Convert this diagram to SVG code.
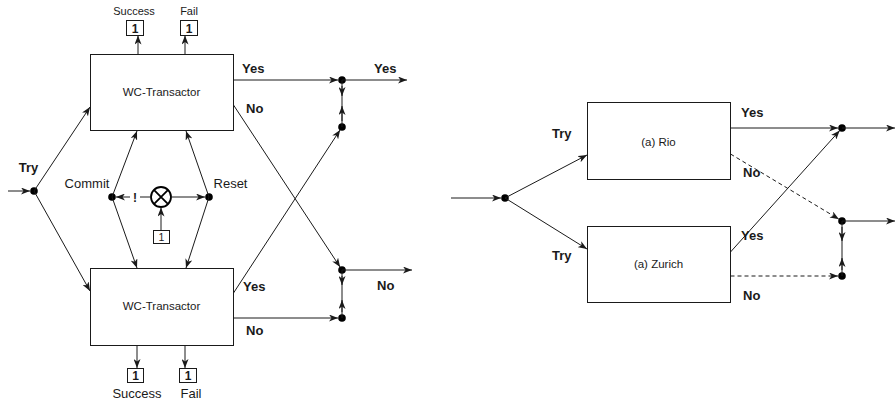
<svg xmlns="http://www.w3.org/2000/svg" width="895" height="403" viewBox="0 0 895 403">
  <defs>
    <style>
      .box { fill: #ffffff; stroke: #1a1a1a; stroke-width: 1; }
      .one { fill: #ffffff; stroke: #1a1a1a; stroke-width: 1; }
      .dot { fill: #000000; }
      .edge { fill: none; stroke: #1a1a1a; stroke-width: 1; }
      .dash { stroke-dasharray: 4 3; }
      .arr { marker-end: url(#arrow); }
      .lbl { font-family: "Liberation Sans", Arial, Helvetica, sans-serif; fill: #1a1a1a; }
      .name { font-size: 11.5px; text-anchor: middle; }
      .bold { font-size: 13px; font-weight: bold; }
      .plain { font-size: 13px; }
      .small { font-size: 11px; text-anchor: middle; }
      .num { font-size: 12px; font-weight: bold; text-anchor: middle; }
    </style>
    <marker id="arrow" viewBox="0 0 9 7" refX="9" refY="3.5" markerWidth="9" markerHeight="7" markerUnits="userSpaceOnUse" orient="auto">
      <path d="M0,0 L9,3.5 L0,7 L2.5,3.5 z" fill="#1a1a1a"/>
    </marker>
  </defs>

  <!-- left: two WC-Transactors -->
  <g id="wc-top">
    <rect class="box" x="90.5" y="54.5" width="143" height="76"/>
    <text class="lbl name" x="161.5" y="96">WC-Transactor</text>
  </g>
  <g id="wc-bottom">
    <rect class="box" x="90.5" y="268.5" width="143" height="77"/>
    <text class="lbl name" x="161.5" y="310">WC-Transactor</text>
  </g>

  <g id="top-success">
    <text class="lbl small" x="134" y="15">Success</text>
    <rect class="one" x="126.5" y="20.5" width="17" height="15"/>
    <text class="lbl num" x="135" y="32.5">1</text>
  </g>
  <g id="top-fail">
    <text class="lbl small" x="189" y="15">Fail</text>
    <rect class="one" x="180.5" y="20.5" width="17" height="15"/>
    <text class="lbl num" x="189" y="32.5">1</text>
  </g>
  <g id="bottom-success">
    <rect class="one" x="127.5" y="368.5" width="16" height="14"/>
    <text class="lbl num" x="135.5" y="380">1</text>
    <text class="lbl plain" x="137" y="398" text-anchor="middle">Success</text>
  </g>
  <g id="bottom-fail">
    <rect class="one" x="179.5" y="368.5" width="17" height="14"/>
    <text class="lbl num" x="188" y="380">1</text>
    <text class="lbl plain" x="191" y="398" text-anchor="middle">Fail</text>
  </g>

  <g id="try-left">
    <circle class="dot" cx="34" cy="191" r="3.8"/>
    <text class="lbl bold" x="28.5" y="172" text-anchor="middle">Try</text>
  </g>
  <g id="commit">
    <circle class="dot" cx="112" cy="197" r="3.8"/>
    <text class="lbl plain" x="87" y="188" text-anchor="middle">Commit</text>
  </g>
  <g id="reset">
    <circle class="dot" cx="209" cy="197" r="3.8"/>
    <text class="lbl plain" x="230.5" y="188" text-anchor="middle">Reset</text>
  </g>
  <g id="xor">
    <circle cx="161" cy="197" r="10" fill="#ffffff" stroke="#000000" stroke-width="1.8"/>
    <path d="M153.9,189.9 L168.1,204.1 M168.1,189.9 L153.9,204.1" stroke="#000000" stroke-width="1.8"/>
  </g>
  <g id="xor-one">
    <rect class="one" x="153.5" y="230.5" width="16" height="13"/>
    <text class="lbl" x="161.5" y="241" font-size="10.5" text-anchor="middle">1</text>
  </g>

  <g id="join-yes">
    <circle class="dot" cx="342" cy="80" r="3.8"/>
    <circle class="dot" cx="342" cy="127" r="3.8"/>
  </g>
  <g id="join-no">
    <circle class="dot" cx="342" cy="270" r="3.8"/>
    <circle class="dot" cx="342" cy="318" r="3.8"/>
  </g>

  <!-- right: Rio / Zurich -->
  <g id="rio">
    <rect class="box" x="587.5" y="102.5" width="143" height="77"/>
    <text class="lbl name" x="658.5" y="146">(a) Rio</text>
  </g>
  <g id="zurich">
    <rect class="box" x="587.5" y="226.5" width="143" height="76"/>
    <text class="lbl name" x="658.5" y="268">(a) Zurich</text>
  </g>
  <g id="split">
    <circle class="dot" cx="505" cy="198" r="3.8"/>
  </g>
  <g id="join-right">
    <circle class="dot" cx="842" cy="128" r="3.8"/>
    <circle class="dot" cx="842" cy="221" r="3.8"/>
    <circle class="dot" cx="842" cy="276" r="3.8"/>
  </g>

  <g id="connectors">
    <!-- left entry and try branches -->
    <path class="edge arr" d="M8,191 L30,191"/>
    <path class="edge arr" d="M34,191 L90,107"/>
    <path class="edge arr" d="M34,191 L90,291"/>
    <!-- success / fail outputs -->
    <path class="edge arr" d="M138,54 L138,35.5"/>
    <path class="edge arr" d="M185,54 L185,35.5"/>
    <path class="edge arr" d="M137,346 L137,368"/>
    <path class="edge arr" d="M185,346 L185,368"/>
    <!-- commit / reset -->
    <path class="edge arr" d="M112,197 L137,131"/>
    <path class="edge arr" d="M112,197 L137,268"/>
    <path class="edge arr" d="M209,197 L186,131"/>
    <path class="edge arr" d="M209,197 L186,268"/>
    <path class="edge arr" d="M171,197 L205,197"/>
    <path class="edge arr" d="M151,197 L116,197"/>
    <rect x="130" y="190" width="10" height="14" fill="#ffffff"/>
    <text class="lbl" x="135" y="202" font-size="12" font-weight="bold" text-anchor="middle">!</text>
    <path class="edge arr" d="M161,230 L161,207.5"/>
    <!-- outcomes -->
    <path class="edge arr" d="M233.5,80 L338,80"/>
    <path class="edge arr" d="M342,80 L407,80"/>
    <path class="edge arr" d="M233.5,105 L340.1,267.1"/>
    <path class="edge arr" d="M233.5,293 L340.1,129.9"/>
    <path class="edge arr" d="M342,270 L412,270"/>
    <path class="edge arr" d="M233.5,318 L338,318"/>
    <path class="edge" d="M342,80 L342,127"/>
    <path class="edge arr" d="M342,86 L342,96"/>
    <path class="edge arr" d="M342,121 L342,106"/>
    <path class="edge" d="M342,270 L342,318"/>
    <path class="edge arr" d="M342,276 L342,285"/>
    <path class="edge arr" d="M342,312 L342,300"/>
    <text class="lbl bold" x="242" y="73">Yes</text>
    <text class="lbl bold" x="374" y="73">Yes</text>
    <text class="lbl bold" x="246" y="113">No</text>
    <text class="lbl bold" x="243" y="291">Yes</text>
    <text class="lbl bold" x="377" y="290">No</text>
    <text class="lbl bold" x="246" y="335">No</text>

    <!-- right entry and try branches -->
    <path class="edge arr" d="M451,198 L501,198"/>
    <path class="edge arr" d="M505,198 L587,155"/>
    <path class="edge arr" d="M505,198 L587,249"/>
    <text class="lbl bold" x="552" y="138">Try</text>
    <text class="lbl bold" x="552" y="260">Try</text>
    <!-- right outcomes -->
    <path class="edge arr" d="M730.5,128 L838,128"/>
    <path class="edge dash arr" d="M730.5,154 L839,219.2"/>
    <path class="edge arr" d="M730.5,252 L839.7,130.6"/>
    <path class="edge dash arr" d="M730.5,276 L838,276"/>
    <path class="edge arr" d="M842,128 L895,128"/>
    <path class="edge arr" d="M842,221 L895,221"/>
    <path class="edge" d="M842,221 L842,276"/>
    <path class="edge arr" d="M842,227 L842,241"/>
    <path class="edge arr" d="M842,270 L842,258"/>
    <text class="lbl bold" x="741" y="117">Yes</text>
    <text class="lbl bold" x="743" y="177">No</text>
    <text class="lbl bold" x="741" y="240">Yes</text>
    <text class="lbl bold" x="743" y="300">No</text>
  </g>
</svg>
